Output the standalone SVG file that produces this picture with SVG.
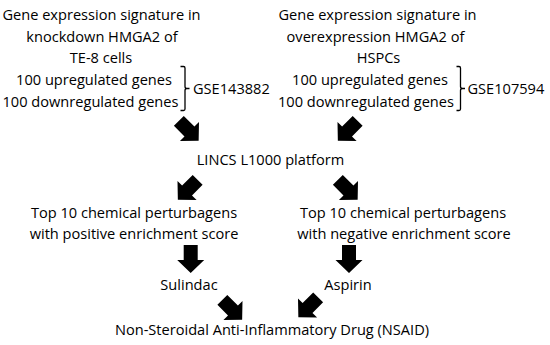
<svg xmlns="http://www.w3.org/2000/svg" width="550" height="345" viewBox="0 0 550 345">
<style>
text{font-family:"Open Sans","Noto Sans","DejaVu Sans",sans-serif;font-size:14.6px;fill:#000;text-anchor:middle}
.s{text-anchor:start}
.br{fill:none;stroke:#000;stroke-width:1.3}
</style>
<defs>
<path id="arr" d="M-7,-14 H7 V1 H13.5 L0,14 L-13.5,1 H-7 Z" fill="#000"/>
</defs>
<rect width="550" height="345" fill="#fff"/>
<g id="src-left">
<text x="101.5" y="20">Gene expression signature in</text>
<text x="102" y="41.5">knockdown HMGA2 of</text>
<text x="101" y="62.5">TE-8 cells</text>
<text x="94" y="85">100 upregulated genes</text>
<text x="90.5" y="107">100 downregulated genes</text>
<path class="br" d="M180.5,66.5 H183.5 Q185,66.5 185,68 V86.5 Q185,88.5 187,88.5 H189.5 M187,88.5 Q185,88.5 185,90.5 V109 Q185,110.5 183.5,110.5 H180.5"/>
<text class="s" x="193" y="94">GSE143882</text>
</g>
<g id="src-right">
<text x="377.5" y="20">Gene expression signature in</text>
<text x="375.5" y="41.5">overexpression HMGA2 of</text>
<text x="378.5" y="62.5">HSPCs</text>
<text x="370" y="85">100 upregulated genes</text>
<text x="366" y="107">100 downregulated genes</text>
<path class="br" d="M456.5,66.5 H459 Q460.5,66.5 460.5,68 V86.5 Q460.5,88.5 462.5,88.5 H465 M462.5,88.5 Q460.5,88.5 460.5,90.5 V109 Q460.5,110.5 459,110.5 H456.5"/>
<text class="s" x="467.5" y="94">GSE107594</text>
</g>
<g id="lincs">
<text x="270.5" y="165">LINCS L1000 platform</text>
</g>
<g id="pos">
<text x="134" y="218">Top 10 chemical perturbagens</text>
<text x="134" y="239">with positive enrichment score</text>
</g>
<g id="neg">
<text x="403" y="218">Top 10 chemical perturbagens</text>
<text x="404" y="239">with negative enrichment score</text>
</g>
<g id="sulindac">
<text x="189" y="290">Sulindac</text>
</g>
<g id="aspirin">
<text x="348" y="290">Aspirin</text>
</g>
<g id="nsaid">
<text x="272" y="335">Non-Steroidal Anti-Inflammatory Drug (NSAID)</text>
</g>
<g id="connectors">
<use href="#arr" transform="translate(188.75,130.75) rotate(-45)"/>
<use href="#arr" transform="translate(347.75,130.75) rotate(45)"/>
<use href="#arr" transform="translate(187.75,189.75) rotate(45)"/>
<use href="#arr" transform="translate(347.75,189.75) rotate(-45)"/>
<use href="#arr" transform="translate(190.7,259)"/>
<use href="#arr" transform="translate(349,259)"/>
<use href="#arr" transform="translate(232.25,309.75) rotate(-45)"/>
<use href="#arr" transform="translate(308.25,307.25) rotate(45)"/>
</g>
</svg>
